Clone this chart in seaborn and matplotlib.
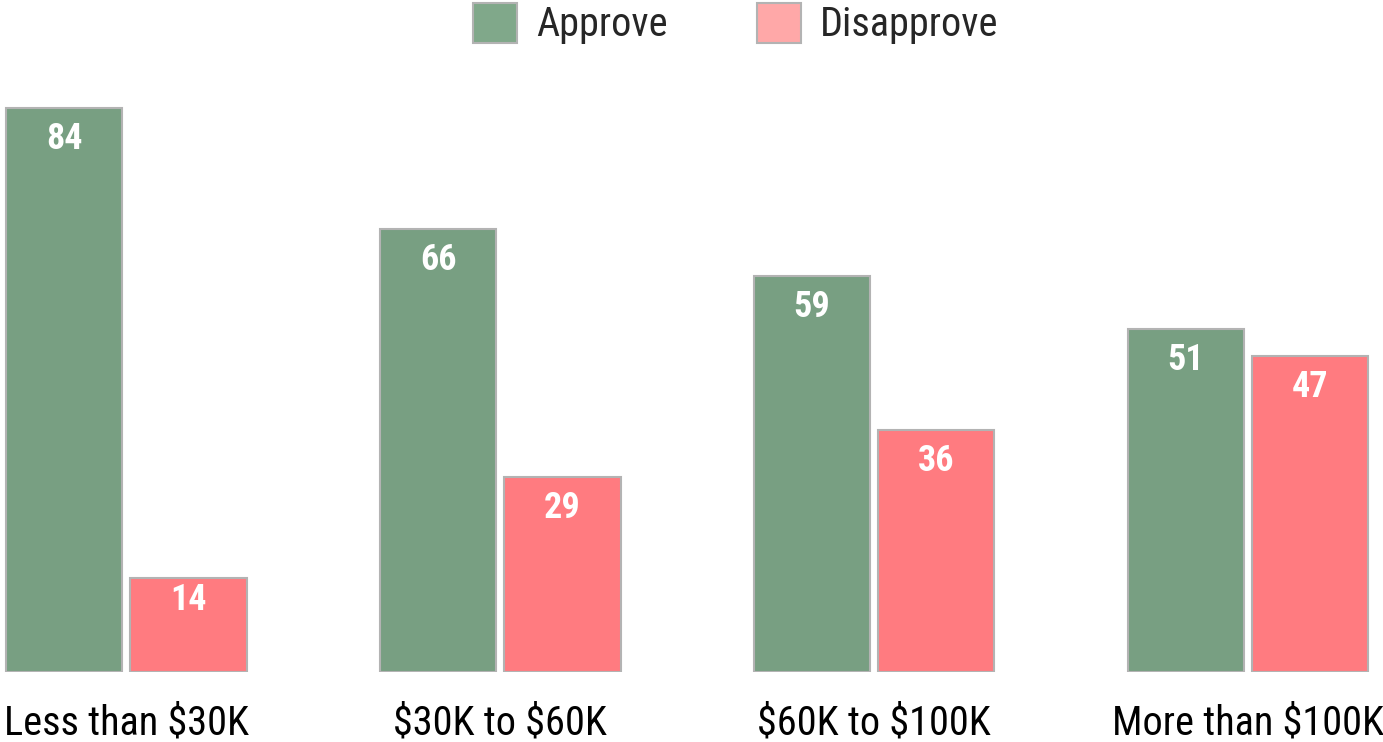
import matplotlib
matplotlib.use("Agg")
import matplotlib.pyplot as plt
from matplotlib import font_manager
from matplotlib.patches import Patch
import seaborn as sns
import pandas as pd

categories = ["Less than $30K", "$30K to $60K", "$60K to $100K", "More than $100K"]
approve = [84, 66, 59, 51]
disapprove = [14, 29, 36, 47]
series = ["Approve", "Disapprove"]

avail = {f.name for f in font_manager.fontManager.ttflist}
family = "Liberation Sans"
for cand in ["Liberation Sans Narrow", "Arial Narrow", "Roboto Condensed", "DejaVu Sans Condensed"]:
    if cand in avail:
        family = cand
        break

sns.set_theme(style="white")
plt.rcParams["font.family"] = [family, "DejaVu Sans"]
plt.rcParams["text.parse_math"] = False

df = pd.DataFrame({
    "category": categories * 2,
    "value": approve + disapprove,
    "series": [series[0]] * 4 + [series[1]] * 4,
})

W, H, DPI = 1383, 742, 100
fig = plt.figure(figsize=(W / DPI, H / DPI), dpi=DPI)
ax = fig.add_axes([0, (H - 672) / H, 1, (672 - 70) / H])

bar_colors = {"Approve": "#789f82", "Disapprove": "#ff7b80"}
sns.barplot(data=df, x="category", y="value", hue="series", order=categories,
            hue_order=series, palette=bar_colors, width=0.665, gap=0.065,
            edgecolor="#b3b3b3", linewidth=1.5, saturation=1, ax=ax, legend=False)

ax.set_xlim(-0.338, 3.361)
ax.set_ylim(0, 89.6)
for s in ax.spines.values():
    s.set_visible(False)
ax.set_yticks([])
ax.set_xlabel("")
ax.set_ylabel("")
ax.tick_params(axis="x", length=0, pad=23, labelsize=29, colors="black")

px_per_unit = (672 - 70) / 89.6
for cont in ax.containers:
    for p in cont:
        h = p.get_height()
        hpx = h * px_per_unit
        off_px = min(31, hpx * 0.23)
        ax.annotate(f"{h:.0f}", (p.get_x() + p.get_width() / 2, h),
                    xytext=(0, -off_px * 72 / DPI), textcoords="offset points",
                    ha="center", va="center", color="white", fontsize=26,
                    fontweight="bold")

legend_colors = ["#80a88a", "#ffa8a8"]
handles = [Patch(facecolor=c, edgecolor="#b3b3b3", linewidth=1.5, label=l)
           for c, l in zip(legend_colors, series)]
fig.legend(handles=handles, loc="upper center", bbox_to_anchor=(0.532, 1.045),
           ncol=2, frameon=False, fontsize=29, handlelength=1.1, handleheight=1.15,
           handletextpad=0.47, columnspacing=2.2)

fig.savefig("out.png", dpi=DPI)
